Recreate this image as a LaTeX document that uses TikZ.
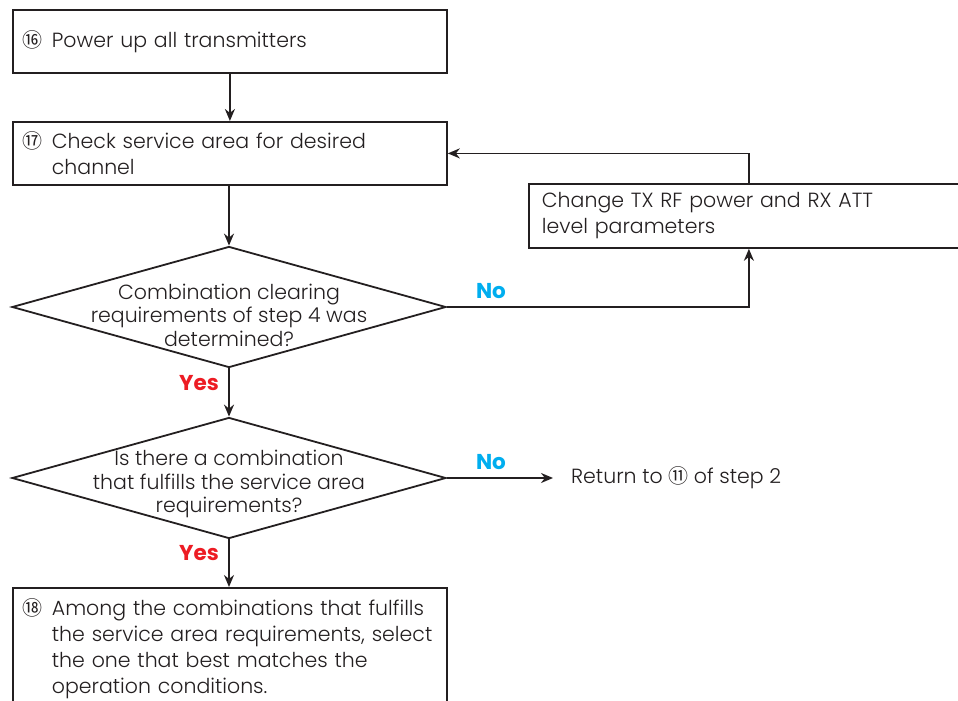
\documentclass[tikz,border=0pt]{standalone}
\usepackage{fontspec}
\setmainfont{Poppins}[UprightFont=* Light,BoldFont=* Bold]
\newfontfamily\circfont{Noto Sans CJK JP}
\usetikzlibrary{arrows.meta,positioning,shapes.geometric}
\definecolor{ink}{RGB}{35,31,32}
\definecolor{nocyan}{RGB}{0,174,239}
\definecolor{yesred}{RGB}{237,28,36}
\newcommand{\stepno}[1]{\makebox[29pt][l]{\circfont\fontsize{20}{20}\selectfont #1}}
\newcommand{\circno}[1]{{\circfont\fontsize{20}{20}\selectfont #1}}

\begin{document}
\begin{tikzpicture}[x=1pt,y=-1pt,>={Stealth[length=12pt,width=10pt]},
  every node/.style={text=ink,font=\fontsize{20.5}{26}\selectfont},
  box/.style={draw=ink,line width=1.8pt,align=left,inner xsep=10pt,inner ysep=0pt,anchor=north west},
  decision/.style={draw=ink,line width=1.8pt,diamond,minimum width=434pt,minimum height=121pt,inner sep=0pt},
  dtext/.style={align=center,font=\fontsize{20.5}{23.5}\selectfont},
  flow/.style={draw=ink,line width=1.8pt},
  yes/.style={text=yesred,font=\bfseries\fontsize{21.5}{22}\selectfont},
  no/.style={text=nocyan,font=\bfseries\fontsize{21.5}{22}\selectfont}]
\useasboundingbox (0,0) rectangle (958,701);
\clip (0,0) rectangle (958,701);
% main column
\node[box,text width=414pt,minimum height=63pt] (power) at (12,9) {\stepno{⑯}Power up all transmitters};
\node[box,text width=414pt,minimum height=63pt] (check) at (12,121)
  {\stepno{⑰}\parbox[t]{380pt}{Check service area for desired\\channel}};
\node[decision] (combo) at (229,307) {};
\node[dtext] (combotext) at (229,315) {Combination clearing\\requirements of step 4 was\\determined?};
\node[decision] (fulfil) at (229,478) {};
\node[dtext] (fulfiltext) at (229,484) {Is there a combination\\that fulfills the service area\\requirements?};
\node[box,text width=414pt,inner ysep=11pt] (select) at (12,587)
  {\stepno{⑱}\parbox[t]{385pt}{Among the combinations that fulfills\\the service area requirements, select\\the one that best matches the\\operation conditions.}};
% side branch
\node[box,inner xsep=13pt,text width=414pt,minimum height=64pt] (change) at (528,183)
  {Change TX RF power and RX ATT\\level parameters};
\node[anchor=west,inner xsep=18pt] (ret) at (553,478) {Return to \circno{⑪} of step 2};
% labels
\node[no] (no1) at (491,291) {No};
\node[no] (no2) at (491,462) {No};
\node[yes] (yes1) at (199,383) {Yes};
\node[yes] (yes2) at (199,553) {Yes};
% connectors
\draw[flow,->] (power.south) -- (power.south |- check.north);
\draw[flow,->] (check.south -| combo.north) -- (combo.north);
\draw[flow,->] (combo.south) -- (fulfil.north);
\draw[flow,->] (fulfil.south) -- (fulfil.south |- select.north);
\draw[flow,->] (combo.east) -| (change.south);
\draw[flow,->] (change.north) |- (check.east);
\draw[flow,->] (fulfil.east) -- (ret.west);
\end{tikzpicture}
\end{document}
